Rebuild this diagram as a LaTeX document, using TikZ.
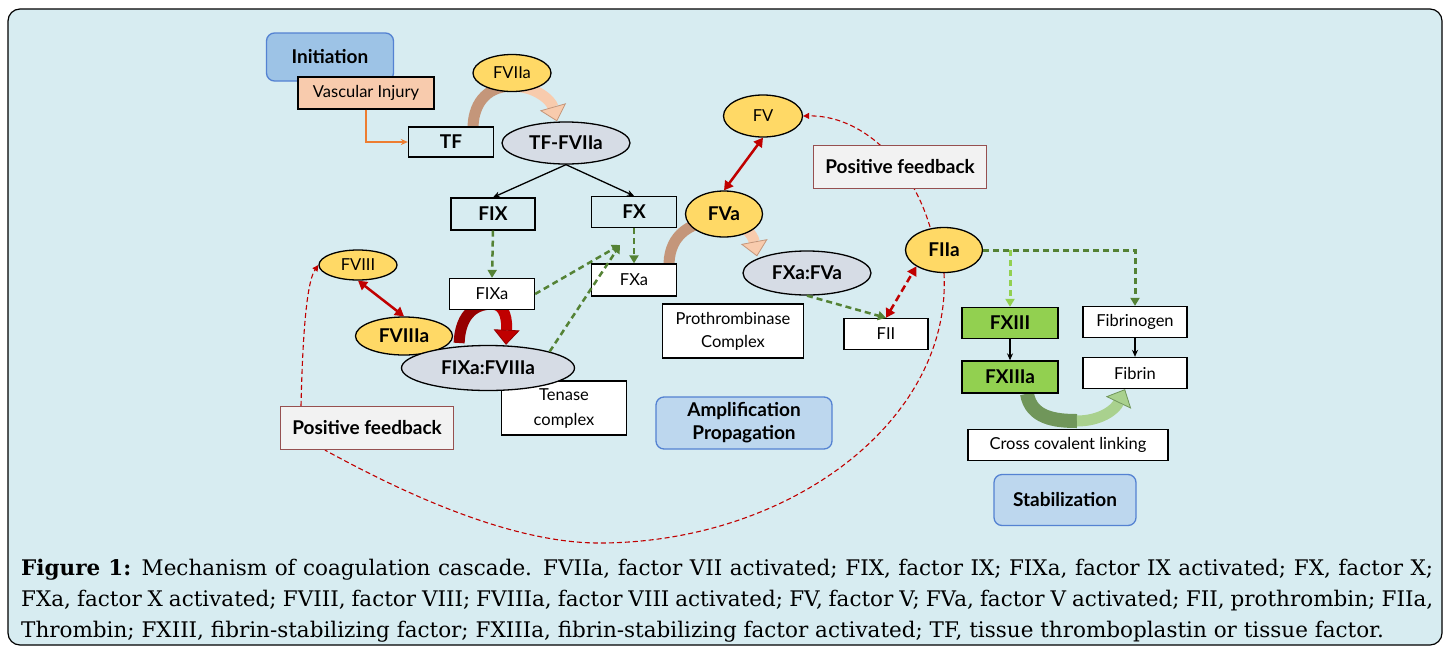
\documentclass[tikz,border=0pt]{standalone}
\usepackage{fontspec}
\setmainfont{Lato}
\newfontfamily\capfont{DejaVu Serif}
\usetikzlibrary{shapes.geometric,arrows.meta}
\pgfdeclarelayer{background}
\pgfsetlayers{background,main}

\definecolor{panel}{RGB}{215,236,241}
\definecolor{gold}{RGB}{255,217,102}
\definecolor{cplx}{RGB}{214,220,229}
\definecolor{initfill}{RGB}{157,195,230}
\definecolor{phasefill}{RGB}{189,215,238}
\definecolor{phaseline}{RGB}{84,130,210}
\definecolor{peach}{RGB}{248,203,173}
\definecolor{brownband}{RGB}{196,150,122}
\definecolor{orangeline}{RGB}{237,125,49}
\definecolor{bindred}{RGB}{192,0,0}
\definecolor{darkband}{RGB}{150,0,0}
\definecolor{fbfill}{RGB}{242,242,242}
\definecolor{fbedge}{RGB}{150,80,80}
\definecolor{xiiigreen}{RGB}{146,208,80}
\definecolor{actgreen}{RGB}{84,130,53}
\definecolor{bandgreen}{RGB}{112,150,90}
\definecolor{bandlight}{RGB}{169,209,142}

\newcommand\lbl{\fontsize{16.5}{20}\selectfont}
\newcommand\blbl{\fontsize{19}{23}\selectfont\bfseries}

\begin{document}
\begin{tikzpicture}[x=1pt,y=-1pt]
        \tikzstyle{every node}=[font=\lbl, inner sep=0pt]
        \tikzstyle{box}=[draw, line width=1.3pt, rectangle]
        \tikzstyle{whitebox}=[box, fill=white]
        \tikzstyle{factor}=[draw, line width=1.3pt, ellipse, fill=gold]
        \tikzstyle{complex}=[draw, line width=1.3pt, ellipse, fill=cplx, font=\blbl]
        \tikzstyle{phase}=[draw=phaseline, line width=1.3pt, rounded corners=8pt, fill=phasefill, font=\blbl, align=center]
        \tikzstyle{feedback}=[draw=fbedge, line width=1.3pt, fill=fbfill, font=\blbl]
        \tikzstyle{xiii}=[box, fill=xiiigreen, font=\blbl]
        \tikzstyle{link}=[line width=1.3pt, -{Stealth[length=7pt,width=6pt]}]
        \tikzstyle{act}=[draw=actgreen, line width=2.5pt, dash pattern=on 6pt off 4pt, -{Triangle[length=8pt,width=9pt]}]
        \tikzstyle{bind}=[draw=bindred, line width=2.5pt, {Triangle[length=9pt,width=10pt]}-{Triangle[length=9pt,width=10pt]}]
        \tikzstyle{loopline}=[draw=bindred, line width=1.1pt, dash pattern=on 5pt off 3pt]
        \tikzstyle{band}=[line width=11pt]

        \useasboundingbox (0,0) rectangle (1448,651);
        \begin{pgfonlayer}{background}
            \fill[white] (0,0) rectangle (1448,651);
            \draw[line width=1.2pt, fill=panel, rounded corners=12pt] (8,9) rectangle (1442,645);
        \end{pgfonlayer}

        \node[phase, fill=initfill, minimum width=127pt, minimum height=48pt] (init) at (330,57) {Initiation};
        \node[box, fill=peach, minimum width=136pt, minimum height=32pt] (injury) at (366,93) {Vascular Injury};
        \node[box, font=\blbl, minimum width=85pt, minimum height=30pt] (tf) at (451,142) {TF};
        \node[factor, minimum width=78pt, minimum height=37pt] (fviia) at (512,73) {FVIIa};
        \node[complex, minimum width=128pt, minimum height=42pt] (tffviia) at (566,143) {TF-FVIIa};
        \node[box, font=\blbl, minimum width=84pt, minimum height=32pt] (fix) at (493,214) {FIX};
        \node[box, font=\blbl, minimum width=85pt, minimum height=31pt] (fx) at (634,212) {FX};
        \node[whitebox, minimum width=85pt, minimum height=31pt] (fixa) at (492,294) {FIXa};
        \node[whitebox, minimum width=85pt, minimum height=32pt] (fxa) at (634,280) {FXa};
        \node[factor, minimum width=78pt, minimum height=30pt] (fviii) at (358,265) {FVIII};
        \node[factor, font=\blbl, minimum width=97pt, minimum height=38pt] (fviiia) at (404,336) {FVIIIa};
        \node[whitebox, align=center, font=\fontsize{16.5}{25}\selectfont, minimum width=125pt, minimum height=54pt] (tenase) at (564,408) {Tenase\\complex};
        \node[complex, minimum width=173pt, minimum height=45pt] (tenasecplx) at (488,368) {FIXa:FVIIIa};
        \node[feedback, minimum width=173pt, minimum height=43pt] (fbleft) at (367,428) {Positive feedback};

        \node[factor, minimum width=79pt, minimum height=42pt] (fv) at (763,116) {FV};
        \node[factor, font=\blbl, minimum width=77pt, minimum height=46pt] (fva) at (724,214) {FVa};
        \node[complex, minimum width=128pt, minimum height=44pt] (prothcplx) at (807,273) {FXa:FVa};
        \node[whitebox, align=center, font=\fontsize{16.5}{23}\selectfont, minimum width=141pt, minimum height=54pt] (prothr) at (733,331) {Prothrombinase\\Complex};
        \node[whitebox, minimum width=84pt, minimum height=31pt] (fii) at (886,334) {FII};
        \node[factor, font=\blbl, minimum width=77pt, minimum height=45pt] (fiia) at (944,250) {FIIa};
        \node[feedback, minimum width=173pt, minimum height=43pt] (fbright) at (900,167) {Positive feedback};
        \node[phase, minimum width=176pt, minimum height=52pt] (amp) at (744,423) {Amplification\\Propagation};

        \node[xiii, minimum width=96pt, minimum height=31pt] (fxiii) at (1010,323) {FXIII};
        \node[xiii, minimum width=96pt, minimum height=32pt] (fxiiia) at (1010,377) {FXIIIa};
        \node[whitebox, minimum width=104pt, minimum height=31pt] (fibrinogen) at (1135,322) {Fibrinogen};
        \node[whitebox, minimum width=104pt, minimum height=31pt] (fibrin) at (1135,373) {Fibrin};
        \node[whitebox, minimum width=200pt, minimum height=31pt] (linking) at (1068,445) {Cross covalent linking};
        \node[phase, minimum width=142pt, minimum height=51pt] (stab) at (1065,500) {Stabilization};

        \node[anchor=base west, text width=1412pt, align=justify, font=\capfont\fontsize{21.5}{31}\selectfont] (caption) at (21,575) {\textbf{Figure 1:} Mechanism of coagulation cascade. FVIIa, factor VII activated; FIX, factor IX; FIXa, factor IX activated; FX, factor X;\linebreak FXa, factor X activated; FVIII, factor VIII; FVIIIa, factor VIII activated; FV, factor V; FVa, factor V activated; FII, prothrombin; FIIa,\linebreak Thrombin; FXIII, fibrin-stabilizing factor; FXIIIa, fibrin-stabilizing factor activated; TF, tissue thromboplastin or tissue factor.};

        \coordinate (xin) at (620,245);
        \coordinate (bend) at (1077,421);

        \draw[link, draw=orangeline, line width=1.8pt] (injury.south) |- (tf.west);
        \draw[link] (tffviia.south) -- (fix.north);
        \draw[link] (tffviia.south) -- (fx.north);
        \draw[act] (fix.south) -- (fixa.north);
        \draw[act] (fx.south) -- (fxa.north);
        \draw[act] (fixa.east) -- (xin);
        \draw[act] (tenasecplx.north east) -- (xin);
        \draw[bind] (fviii.south) -- (fviiia.north);
        \draw[bind] (fv.south) -- (fva.north);
        \draw[act] (prothcplx.south) -- (fii.north);
        \draw[bind, dash pattern=on 7pt off 4pt] (fii.north) -- (fiia.south west);
        \draw[act, line width=3pt] (fiia.east) -| (fibrinogen.north);
        \draw[act, draw=xiiigreen, line width=3pt] (fxiii.north |- fiia.east) -- (fxiii.north);
        \draw[link] (fxiii.south) -- (fxiiia.north);
        \draw[link] (fibrinogen.south) -- (fibrin.north);
        \draw[loopline, -{Triangle[length=6pt,width=6pt]}] ([xshift=-66pt]fbleft.north) .. controls (303,320) and (308,280) .. (fviii.west);

        \begin{pgfonlayer}{background}
            \draw[band, draw=brownband] ([xshift=22pt]tf.north) .. controls (474,100) and (490,86) .. ([yshift=6pt]fviia.south);
            \draw[band, draw=peach, -{Triangle[length=15pt,width=27pt,line width=0.8pt,color=brownband,fill=peach]}] ([yshift=6pt]fviia.south) .. controls (535,86) and (551,100) .. ([xshift=-9pt]tffviia.north);
            \draw[band, draw=darkband] ([xshift=6pt,yshift=-7pt]fviiia.east) .. controls (460,318) and (472,304) .. ([yshift=6pt]fixa.south);
            \draw[band, draw=bindred, -{Triangle[length=15pt,width=26pt,line width=0.8pt,color=darkband,fill=bindred]}] ([yshift=6pt]fixa.south) .. controls (506,304) and (507,322) .. ([xshift=18pt]tenasecplx.north);
            \draw[band, draw=brownband] ([xshift=35pt]fxa.north) .. controls (670,235) and (690,220) .. ([yshift=-6pt]fva.center);
            \draw[band, draw=peach, -{Triangle[length=15pt,width=27pt,line width=0.8pt,color=brownband,fill=peach]}] ([yshift=-6pt]fva.center) .. controls (742,220) and (753,235) .. ([xshift=-50pt,yshift=-6pt]prothcplx.north);
            \draw[band, line width=14pt, draw=bandgreen] ([xshift=17pt]fxiiia.south) .. controls (1031,418) and (1055,421) .. (bend);
            \draw[band, draw=bandlight, -{Triangle[length=15pt,width=28pt,line width=0.8pt,color=bandgreen,fill=bandlight]}] (bend) .. controls (1100,421) and (1115,410) .. ([xshift=-10pt]fibrin.south);
            \draw[loopline, -{Triangle[length=6pt,width=6pt]}] ([xshift=-14pt]fiia.north) .. controls (910,160) and (860,115) .. (fv.east);
            \draw[loopline] (fiia.south) .. controls (952,420) and (790,543) .. (599,543) .. controls (500,543) and (380,480) .. ([xshift=-42pt]fbleft.south);
        \end{pgfonlayer}
\end{tikzpicture}
\end{document}
